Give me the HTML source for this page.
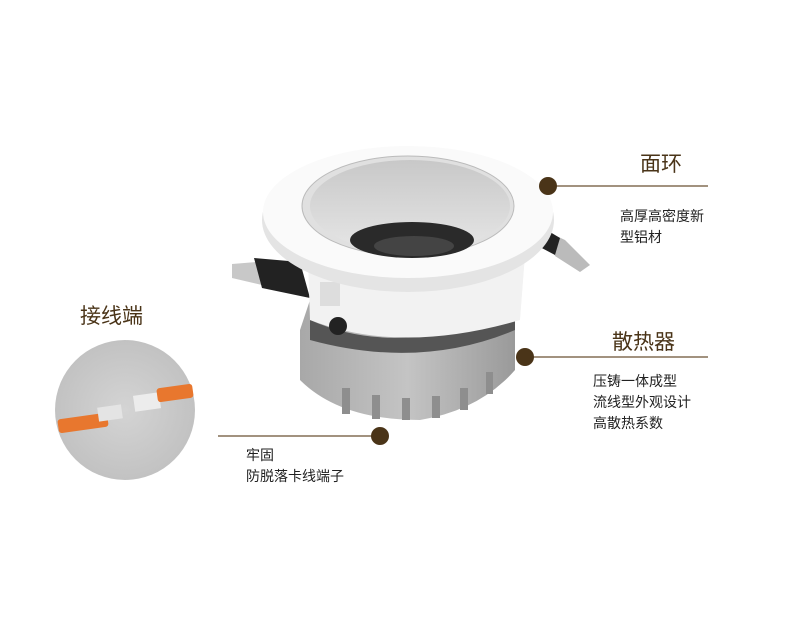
<!DOCTYPE html>
<html><head><meta charset="utf-8"><style>
body{margin:0;width:790px;height:627px;background:#fff;position:relative;overflow:hidden;font-family:"Liberation Sans","Noto Sans CJK SC",sans-serif}
.t{position:absolute;white-space:nowrap;color:#222}
.h{color:#4a3418;font-size:21px}
.s{font-size:14px;line-height:21px}
</style></head><body>
<svg width="790" height="627" style="position:absolute;left:0;top:0">
<defs>
<radialGradient id="cg" cx="0.5" cy="0.5" r="0.5"><stop offset="0" stop-color="#d4d4d4"/><stop offset="1" stop-color="#c2c2c2"/></radialGradient>
<linearGradient id="hs" x1="0" x2="1"><stop offset="0" stop-color="#a8a8a8"/><stop offset="0.5" stop-color="#c4c4c4"/><stop offset="1" stop-color="#9a9a9a"/></linearGradient>
<linearGradient id="inn" x1="0" y1="0" x2="0" y2="1"><stop offset="0" stop-color="#c8c8c8"/><stop offset="1" stop-color="#e6e6e6"/></linearGradient>
</defs>
<circle cx="125" cy="410" r="70" fill="url(#cg)"/>
<rect x="58" y="416" width="50" height="14" rx="3" fill="#e8772e" transform="rotate(-8 83 423)"/>
<rect x="98" y="406" width="24" height="14" fill="#e4e4e4" transform="rotate(-8 110 413)"/>
<rect x="134" y="394" width="26" height="16" fill="#ececec" transform="rotate(-8 147 402)"/>
<rect x="157" y="386" width="36" height="14" rx="3" fill="#e8772e" transform="rotate(-8 175 393)"/>
<!-- heat sink -->
<path d="M310 300 L300 330 L300 380 Q340 420 420 420 Q480 410 515 370 L515 300 Z" fill="url(#hs)"/>
<g fill="#8e8e8e">
<rect x="342" y="388" width="8" height="26"/><rect x="372" y="395" width="8" height="24"/><rect x="402" y="398" width="8" height="22"/><rect x="432" y="396" width="8" height="22"/><rect x="460" y="388" width="8" height="22"/><rect x="486" y="372" width="7" height="22"/>
</g>
<path d="M310 320 Q400 360 515 310 L515 330 Q420 370 310 340 Z" fill="#555"/>
<!-- tabs -->
<path d="M232 264 L256 262 L262 285 L232 278 Z" fill="#c8c8c8"/>
<path d="M254 258 L300 262 L310 298 L262 288 Z" fill="#222"/>
<path d="M548 232 L565 240 L590 265 L580 272 L555 256 Z" fill="#bbb"/>
<path d="M540 226 L560 238 L555 255 L538 246 Z" fill="#222"/>
<!-- body -->
<path d="M308 260 L310 320 Q400 355 520 320 L525 255 Z" fill="#f2f2f2"/>
<circle cx="338" cy="326" r="9" fill="#222"/>
<rect x="320" y="282" width="20" height="24" fill="#ddd"/>
<!-- face ring -->
<ellipse cx="408" cy="220" rx="146" ry="72" fill="#e4e4e4"/>
<ellipse cx="408" cy="212" rx="145" ry="66" fill="#fafafa"/>
<ellipse cx="408" cy="206" rx="106" ry="50" fill="#e0e0e0" stroke="#bbb"/>
<ellipse cx="410" cy="206" rx="100" ry="46" fill="url(#inn)"/>
<ellipse cx="412" cy="240" rx="62" ry="18" fill="#2a2a2a"/>
<ellipse cx="414" cy="246" rx="40" ry="10" fill="#444"/>
<!-- connectors -->
<g fill="#4a3418" stroke="#6b5233" stroke-width="1.3">
<line x1="548" y1="186" x2="708" y2="186"/>
<line x1="525" y1="357" x2="708" y2="357"/>
<line x1="218" y1="436" x2="380" y2="436"/>
<circle cx="548" cy="186" r="9" stroke="none"/>
<circle cx="525" cy="357" r="9" stroke="none"/>
<circle cx="380" cy="436" r="9" stroke="none"/>
</g>
</svg>
<div class="t h" style="left:640px;top:148px">面环</div>
<div class="t s" style="left:620px;top:206px">高厚高密度新<br>型铝材</div>
<div class="t h" style="left:612px;top:326px">散热器</div>
<div class="t s" style="left:593px;top:371px">压铸一体成型<br>流线型外观设计<br>高散热系数</div>
<div class="t h" style="left:80px;top:300px">接线端</div>
<div class="t s" style="left:246px;top:445px">牢固<br>防脱落卡线端子</div>
</body></html>
